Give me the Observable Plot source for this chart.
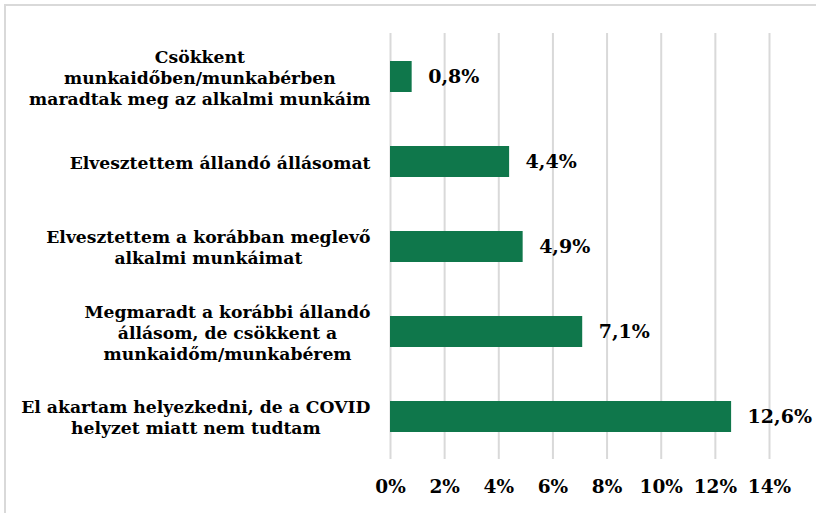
<!DOCTYPE html>
<html>
<head>
<meta charset="utf-8">
<script src="https://cdn.jsdelivr.net/npm/d3@7"></script>
<script src="https://cdn.jsdelivr.net/npm/@observablehq/plot@0.6"></script>
<style>
  html, body { margin: 0; padding: 0; background: #fff; }
  #wrap { position: relative; width: 816px; height: 513px; overflow: hidden; }
  #frame { position: absolute; left: 4px; top: 4px; width: 900px; height: 600px;
           border-top: 2px solid #d9d9d9; border-left: 2px solid #d9d9d9; box-sizing: border-box; }
  #chart { position: absolute; left: 0; top: 0; }
</style>
</head>
<body>
<div id="wrap"><div id="frame"></div><div id="chart"></div></div>
<script>
const categories = [
  "Csökkent munkaidőben/munkabérben maradtak meg az alkalmi munkáim",
  "Elvesztettem állandó állásomat",
  "Elvesztettem a korábban meglevő alkalmi munkáimat",
  "Megmaradt a korábbi állandó állásom, de csökkent a munkaidőm/munkabérem",
  "El akartam helyezkedni, de a COVID helyzet miatt nem tudtam"
];
const categoryLines = [
  ["Csökkent", "munkaidőben/munkabérben", "maradtak meg az alkalmi munkáim"],
  ["Elvesztettem állandó állásomat"],
  ["Elvesztettem a korábban meglevő", "alkalmi munkáimat"],
  ["Megmaradt a korábbi állandó", "állásom, de csökkent a", "munkaidőm/munkabérem"],
  ["El akartam helyezkedni, de a COVID", "helyzet miatt nem tudtam"]
];
const values = [0.8, 4.4, 4.9, 7.1, 12.6];
const xTicks = [0, 2, 4, 6, 8, 10, 12, 14];

const FONT = "'DejaVu Serif', serif";
const FS = 17.2;
const FS_TICK = 18.5;
const FS_VAL = 19;
const data = categories.map((c, i) => ({category: c, value: values[i], lines: categoryLines[i]}));

const ctx = document.createElement("canvas").getContext("2d");
ctx.font = `bold ${FS}px ${FONT}`;
const blockWidth = lines => Math.max(...lines.map(l => ctx.measureText(l).width));

const labelMarks = data.map(d => Plot.text([d], {
  x: () => 0, y: "category",
  text: r => r.lines.join("\n"),
  textAnchor: "middle",
  lineHeight: 1.23,
  dx: -(20 + blockWidth(d.lines) / 2),
  fill: "#000", fontWeight: "bold", fontSize: FS
}));

const chart = Plot.plot({
  width: 816, height: 513,
  marginLeft: 390, marginRight: 47, marginTop: 33, marginBottom: 54,
  style: {fontFamily: FONT, fontSize: FS + "px", fontWeight: "bold", color: "#000", background: "transparent", overflow: "visible"},
  x: {domain: [0, 14], ticks: xTicks, label: null},
  y: {domain: categories, paddingInner: 0.64, paddingOuter: 0.32, axis: null, label: null},
  marks: [
    Plot.ruleX(xTicks, {stroke: "#d9d9d9", strokeWidth: 2}),
    Plot.barX(data, {x: "value", y: "category", fill: "#0f774b"}),
    Plot.text(data, {x: "value", y: "category", text: d => d.value.toFixed(1).replace(".", ",") + "%",
      textAnchor: "start", dx: 16, fill: "#000", fontWeight: "bold", fontSize: FS_VAL}),
    Plot.axisX({ticks: xTicks, tickFormat: d => d + "%", tickSize: 0, tickPadding: 20,
      fontSize: FS_TICK, fontWeight: "bold", fill: "#000", label: null}),
    ...labelMarks
  ]
});
document.getElementById("chart").appendChild(chart);
</script>
</body>
</html>
